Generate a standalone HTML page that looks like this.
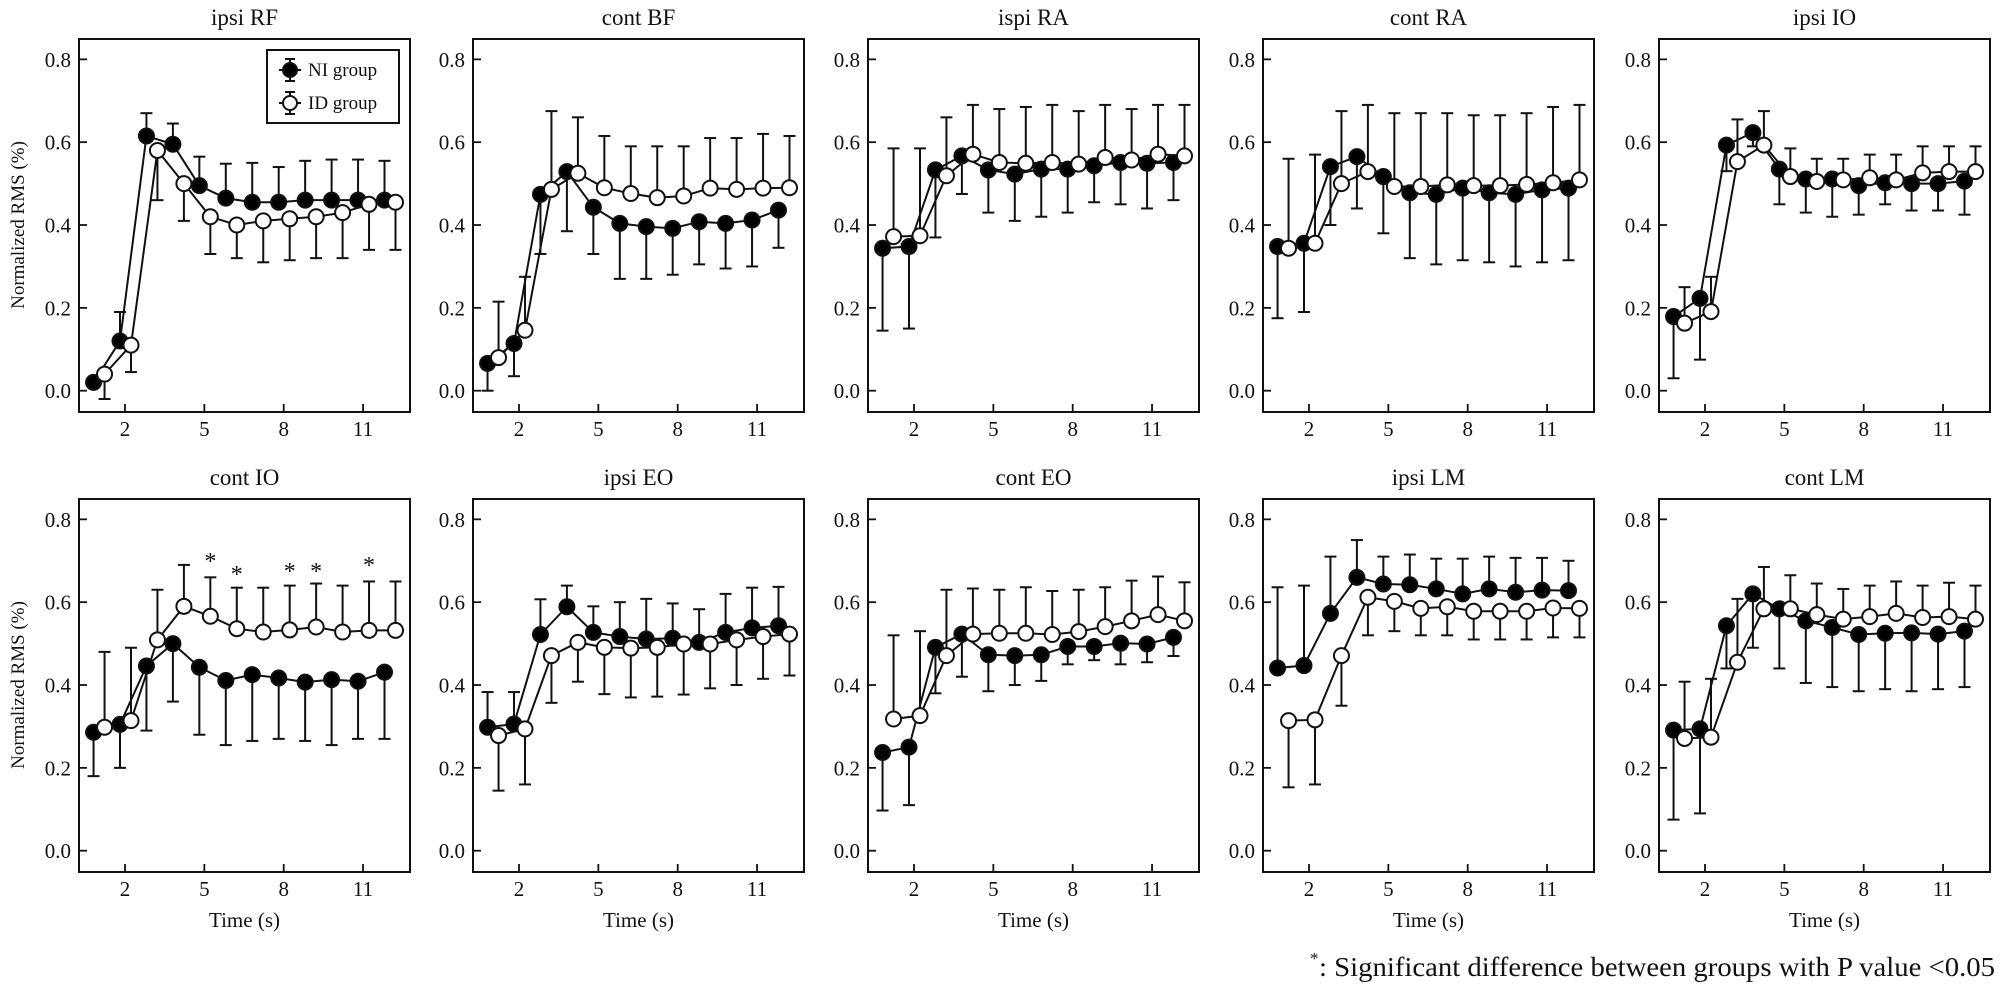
<!DOCTYPE html>
<html><head><meta charset="utf-8"><style>
html,body{margin:0;padding:0;background:#fff}
svg{display:block}
text{font-family:"Liberation Serif",serif;fill:#111}
</style></head><body>
<svg id="s" xmlns="http://www.w3.org/2000/svg" width="2007" height="989" viewBox="0 0 2007 989">
<text x="1310" y="964" font-size="17">*</text>
<text x="1319" y="976" font-size="27" textLength="676" lengthAdjust="spacingAndGlyphs">: Significant difference between groups with P value &lt;0.05</text>
</svg>
<script>
var S=document.getElementById('s'),NS='http://www.w3.org/2000/svg';
function el(t,a,txt){var e=document.createElementNS(NS,t);for(var k in a)e.setAttribute(k,a[k]);if(txt!=null)e.textContent=txt;S.appendChild(e);return e;}
var P=[
["ipsi RF",
[[.02,null],[.12,.19],[.615,.67],[.595,.645],[.495,.565],[.465,.548],[.455,.55],[.455,.54],[.46,.555],[.46,.558],[.46,.558],[.46,.555]],
[[.04,-.02],[.11,.045],[.58,.46],[.50,.41],[.42,.33],[.40,.32],[.41,.31],[.415,.315],[.42,.32],[.43,.32],[.45,.34],[.455,.34]]],
["cont BF",
[[.066,0],[.114,.035],[.474,.33],[.529,.385],[.443,.33],[.404,.27],[.396,.27],[.392,.28],[.408,.305],[.404,.295],[.412,.30],[.436,.345]],
[[.08,.215],[.146,.275],[.486,.675],[.525,.66],[.49,.615],[.476,.59],[.466,.59],[.47,.59],[.489,.61],[.486,.61],[.489,.62],[.49,.615]]],
["ispi RA",
[[.344,.145],[.348,.15],[.533,.37],[.567,.475],[.533,.43],[.523,.41],[.535,.42],[.535,.43],[.543,.455],[.551,.45],[.549,.44],[.551,.46]],
[[.372,.585],[.374,.585],[.519,.66],[.571,.69],[.551,.68],[.549,.685],[.551,.69],[.547,.675],[.563,.69],[.557,.68],[.571,.69],[.567,.69]]],
["cont RA",
[[.348,.175],[.356,.19],[.541,.40],[.565,.44],[.517,.38],[.478,.32],[.474,.305],[.489,.315],[.478,.31],[.474,.30],[.485,.31],[.489,.315]],
[[.344,.56],[.356,.57],[.50,.675],[.529,.69],[.493,.67],[.493,.67],[.497,.67],[.495,.665],[.495,.665],[.498,.67],[.502,.685],[.509,.69]]],
["ipsi IO",
[[.179,.03],[.223,.075],[.593,.53],[.623,.59],[.535,.45],[.511,.43],[.511,.42],[.495,.425],[.502,.45],[.5,.435],[.5,.435],[.506,.425]],
[[.163,.25],[.191,.275],[.553,.655],[.593,.675],[.517,.585],[.505,.56],[.509,.56],[.514,.57],[.509,.57],[.526,.59],[.529,.59],[.529,.59]]],
["cont IO",
[[.286,.18],[.305,.20],[.446,.29],[.50,.36],[.443,.28],[.411,.255],[.425,.265],[.417,.27],[.407,.265],[.413,.255],[.409,.27],[.431,.27]],
[[.298,.48],[.314,.49],[.509,.63],[.59,.69],[.566,.66],[.536,.635],[.528,.635],[.533,.64],[.54,.645],[.528,.64],[.532,.65],[.532,.65]]],
["ipsi EO",
[[.298,.383],[.306,.383],[.522,.607],[.589,.64],[.527,.59],[.517,.6],[.511,.608],[.513,.597],[.503,.583],[.527,.62],[.538,.635],[.543,.637]],
[[.278,.145],[.294,.16],[.471,.357],[.503,.408],[.491,.378],[.489,.37],[.491,.372],[.499,.377],[.499,.392],[.509,.40],[.517,.415],[.523,.423]]],
["cont EO",
[[.237,.097],[.25,.11],[.491,.38],[.523,.42],[.473,.385],[.471,.40],[.473,.41],[.493,.45],[.493,.46],[.501,.45],[.499,.455],[.515,.47]],
[[.318,.52],[.326,.53],[.471,.63],[.523,.633],[.525,.63],[.525,.636],[.522,.627],[.529,.63],[.541,.636],[.555,.652],[.57,.662],[.555,.648]]],
["ipsi LM",
[[.441,.636],[.447,.64],[.573,.71],[.66,.75],[.644,.71],[.642,.715],[.632,.705],[.62,.705],[.632,.71],[.624,.707],[.629,.707],[.628,.70]],
[[.314,.153],[.316,.16],[.471,.35],[.612,.52],[.602,.53],[.585,.52],[.589,.52],[.578,.51],[.578,.51],[.578,.51],[.586,.515],[.585,.515]]],
["cont LM",
[[.291,.075],[.294,.09],[.543,.44],[.62,.49],[.584,.44],[.555,.405],[.539,.395],[.522,.385],[.525,.39],[.526,.385],[.523,.39],[.53,.395]],
[[.271,.408],[.274,.415],[.455,.608],[.584,.685],[.584,.665],[.57,.645],[.559,.632],[.565,.64],[.573,.65],[.563,.64],[.565,.647],[.559,.64]]]
];
var lefts=[79,473,868,1263,1659],W=331;
P.forEach(function(p,i){
  var r=Math.floor(i/5),L=lefts[i%5],dy=r*460,T=39+dy,B=412+dy;
  var Y=function(v){return 390.7+dy-v*414.2;};
  var X=function(t){return L+46+(t-2)*26.45;};
  el('text',{x:L+W/2,y:25+dy,'font-size':23,'text-anchor':'middle'},p[0]);
  el('rect',{x:L,y:T,width:W,height:B-T,fill:'none',stroke:'#111','stroke-width':2});
  [0,.2,.4,.6,.8].forEach(function(v){var y=Y(v);
    el('line',{x1:L,x2:L+8,y1:y,y2:y,stroke:'#111','stroke-width':1.8});
    el('text',{x:L-8,y:y+7.5,'font-size':21,'text-anchor':'end'},v.toFixed(1));});
  [2,5,8,11].forEach(function(t){var x=X(t);
    el('line',{x1:x,x2:x,y1:B,y2:B-8,stroke:'#111','stroke-width':1.8});
    el('text',{x:x,y:B+24,'font-size':21,'text-anchor':'middle'},t);});
  if(r==1) el('text',{x:L+W/2,y:B+55,'font-size':21,'text-anchor':'middle'},'Time (s)');
  if(i%5==0) el('text',{x:0,y:0,'font-size':19,'text-anchor':'middle',transform:'translate(24,'+(225+dy)+') rotate(-90)'},'Normalized RMS (%)');
  [[p[1],-5,'#000'],[p[2],6,'#fff']].forEach(function(s){
    var pts=s[0].map(function(d,k){return [X(k+1)+s[1],Y(d[0])];});
    s[0].forEach(function(d,k){ if(d[1]==null)return; var x=pts[k][0],y=Y(d[1]);
      el('line',{x1:x,x2:x,y1:pts[k][1],y2:y,stroke:'#111','stroke-width':2});
      el('line',{x1:x-6,x2:x+6,y1:y,y2:y,stroke:'#111','stroke-width':2});});
    el('polyline',{points:pts.map(function(q){return q.join(',');}).join(' '),fill:'none',stroke:'#111','stroke-width':2});
  });
  [[p[1],-5,'#000'],[p[2],6,'#fff']].forEach(function(s){
    s[0].forEach(function(d,k){el('circle',{cx:X(k+1)+s[1],cy:Y(d[0]),r:7.5,fill:s[2],stroke:'#111','stroke-width':2});});
  });
  if(i==5){[[5,556],[6,569],[8,566],[9,566],[11,560]].forEach(function(a){
    el('text',{x:X(a[0])+6,y:a[1]+13,'font-size':24,'text-anchor':'middle'},'*');});}
  if(i==0){
    el('rect',{x:267,y:50,width:132,height:73,fill:'#fff',stroke:'#111','stroke-width':2});
    [[70,'#000','NI group'],[103,'#fff','ID group']].forEach(function(a){
      el('line',{x1:290,x2:290,y1:a[0]-11,y2:a[0]+11,stroke:'#111','stroke-width':2});
      el('line',{x1:285,x2:295,y1:a[0]-11,y2:a[0]-11,stroke:'#111','stroke-width':2});
      el('line',{x1:285,x2:295,y1:a[0]+11,y2:a[0]+11,stroke:'#111','stroke-width':2});
      el('line',{x1:279,x2:301,y1:a[0],y2:a[0],stroke:'#111','stroke-width':2});
      el('circle',{cx:290,cy:a[0],r:7,fill:a[1],stroke:'#111','stroke-width':2});
      el('text',{x:308,y:a[0]+6,'font-size':19},a[2]);});
  }
});
</script>
</body></html>
